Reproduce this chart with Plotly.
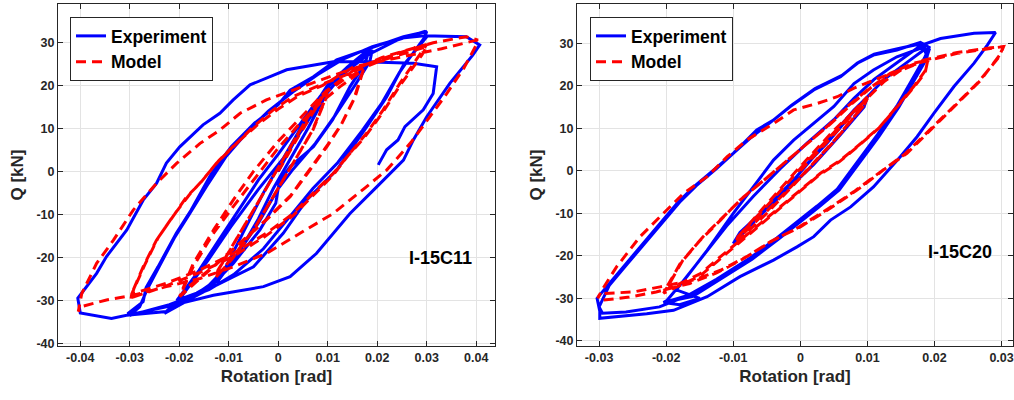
import plotly.graph_objects as go

# ---------------- data (rotation [rad], Q [kN]) ----------------
left_exp = [
    (0, 0), (0.004, 8.5), (0.008, 16.5), (0.0105, 21),
    (0.0095, 17.5), (0.006, 10), (0.002, 2), (-0.001, -4), (-0.004, -11), (-0.008, -19), (-0.0125, -26),
    (-0.0105, -22), (-0.007, -14), (-0.003, -5), (0.001, 3), (0.005, 11), (0.0085, 17), (0.0105, 20.5),
    (0.014, 24.3), (0.0185, 28.6),
    (0.0175, 25), (0.0145, 19.7), (0.011, 12), (0.0071, 5.7), (0.0024, 1.1), (0.0002, -2.5), (-0.0005, -7.4),
    (-0.0037, -13.6), (-0.0091, -21.4), (-0.013, -26), (-0.0165, -28.3), (-0.0205, -30),
    (-0.0195, -28.5), (-0.016, -23), (-0.012, -16), (-0.008, -9), (-0.004, -2), (0.0, 4), (0.0045, 11),
    (0.0085, 17.5), (0.0115, 21.5), (0.015, 24.8), (0.019, 28.2),
    (0.0185, 25.5), (0.0155, 20), (0.0115, 13), (0.0075, 6.5), (0.003, 0.5), (0.0, -4), (-0.004, -12),
    (-0.009, -20.5), (-0.014, -26.5), (-0.019, -30.5), (-0.023, -33),
    (-0.0196, -29.2), (-0.0142, -20.7), (-0.0096, -12.9), (-0.0041, -4.3), (0.001, 3), (0.005, 10),
    (0.009, 17), (0.013, 22.5), (0.018, 27), (0.024, 30.5), (0.0295, 32.5),
    (0.030, 31.3), (0.0266, 26.7), (0.0253, 24.7), (0.0219, 17.3), (0.0179, 10.4), (0.0118, 0.3),
    (0.0057, -6.7), (0.001, -14.4), (-0.005, -22.2), (-0.0131, -26.8), (-0.0226, -32.6), (-0.0303, -33.4),
    (-0.0303, -33), (-0.0273, -30.3), (-0.0267, -27), (-0.0243, -22.2), (-0.0206, -14.4), (-0.0176, -9),
    (-0.0135, -0.5), (-0.0095, 5.7), (-0.0048, 11.2), (0, 15.5), (0.0024, 18.9), (0.0071, 22),
    (0.0118, 25.9), (0.0185, 28.6), (0.0253, 31.3), (0.030, 32.5),
    (0.0295, 31), (0.026, 25.5), (0.0245, 23), (0.021, 16), (0.017, 9.5), (0.012, 2), (0.007, -4),
    (0.002, -11), (-0.003, -18), (-0.009, -24), (-0.014, -27.5), (-0.022, -31), (-0.030, -33.5),
    (-0.028, -31.5), (-0.0265, -27.5), (-0.024, -22), (-0.021, -15.5), (-0.018, -10), (-0.0145, -3.5),
    (-0.0105, 3.5), (-0.006, 9.5), (-0.002, 14), (0.003, 18.5), (0.008, 22.5), (0.013, 26), (0.019, 29),
    (0.025, 31), (0.0295, 31.5), (0.034, 31.4), (0.038, 31.3), (0.0407, 29.4),
    (0.0393, 27), (0.0347, 20.5), (0.030, 12.7), (0.0273, 7.3), (0.0253, 2.6), (0.0199, -3.6),
    (0.0145, -9.8), (0.0077, -19.1), (0.0024, -24.5), (-0.003, -26.8), (-0.0131, -28.8), (-0.0226, -31.5),
    (-0.0337, -34.2), (-0.040, -32.9), (-0.0405, -29.5),
    (-0.0367, -23.7), (-0.0347, -19.8), (-0.0306, -13.6), (-0.0273, -6.7), (-0.0246, -2.8), (-0.0226, 1.9),
    (-0.0199, 5.7), (-0.0152, 10.8), (-0.0118, 13.5), (-0.0091, 16.6), (-0.0057, 20.1), (0.0017, 23.6),
    (0.0111, 25.5), (0.0172, 25.5), (0.0273, 25.1), (0.032, 24.3), (0.0313, 18.1), (0.0293, 14.3),
    (0.0256, 10.4), (0.0242, 7.3), (0.0219, 5.0), (0.0202, 1.5),
]

left_mod = [
    (0, 0), (0.004, 8), (0.0075, 14.5), (0.0098, 18.9),
    (0.0098, 17.4), (0.007, 9.6), (0.003, 1.9), (-0.001, -5.9), (-0.005, -13.6), (-0.0091, -19.8), (-0.0125, -24.5),
    (-0.0125, -23.7), (-0.0077, -14.4), (-0.003, -5.1), (0.0017, 4.2), (0.0064, 13.5), (0.0098, 18.9),
    (0.0096, 17), (0.0068, 9.3), (0.0028, 1.5), (-0.0012, -6.2), (-0.0052, -14), (-0.0092, -20.2), (-0.0125, -24.5),
    (-0.0122, -23), (-0.0078, -14.6), (-0.0032, -5.5), (0.0015, 3.8), (0.0062, 13), (0.0098, 18.5),
    (0.0135, 21.5), (0.0172, 23.6),
    (0.0152, 16.6), (0.0125, 10.4), (0.0098, 5.7), (0.0064, 0.3), (0.0024, -5.9), (-0.0024, -11.3),
    (-0.0077, -16.7), (-0.0131, -22.2), (-0.0178, -26.8), (-0.0199, -29.1),
    (-0.0172, -22.2), (-0.0131, -14.4), (-0.0091, -8.2), (-0.005, -2), (-0.0003, 5), (0.0044, 11.2),
    (0.0084, 15.8), (0.0125, 19.7), (0.0172, 23.6),
    (0.0155, 17.2), (0.0128, 11), (0.010, 6.2), (0.0066, 0.8), (0.0026, -5.5), (-0.0022, -11),
    (-0.0075, -16.5), (-0.013, -22), (-0.0178, -26.5), (-0.0199, -29),
    (-0.0172, -21.5), (-0.013, -13.5), (-0.009, -6.5), (-0.005, 0), (0.0, 7), (0.005, 13), (0.0095, 18.5),
    (0.0152, 23.5), (0.021, 26.5), (0.0255, 28), (0.030, 29.5),
    (0.0246, 20.5), (0.0212, 14.3), (0.0178, 8.8), (0.0145, 4.2), (0.0111, -0.5), (0.0077, -4.3),
    (0.003, -9.8), (-0.0024, -14.4), (-0.0091, -19.1), (-0.0158, -22.9), (-0.0226, -26), (-0.0293, -28.4),
    (-0.0296, -29.5),
    (-0.0296, -28.4), (-0.0273, -22.2), (-0.0246, -16), (-0.0212, -10.5), (-0.0185, -5.9), (-0.0158, -2.8),
    (-0.0125, 1.9), (-0.0091, 5.7), (-0.005, 10.4), (-0.001, 14.3), (0.003, 17.4), (0.0077, 19.7),
    (0.0145, 22.8), (0.0212, 25.9), (0.030, 29),
    (0.029, 27), (0.0245, 19.8), (0.021, 13.5), (0.0175, 8), (0.014, 3.5), (0.011, -1), (0.0075, -5),
    (0.003, -10.3), (-0.0025, -15), (-0.009, -19.7), (-0.0158, -23.5), (-0.0226, -26.6), (-0.0295, -29.3),
    (-0.0298, -30),
    (-0.0296, -28.5), (-0.027, -21.8), (-0.0243, -15.5), (-0.021, -10), (-0.018, -5.5), (-0.0155, -2.3),
    (-0.012, 2.5), (-0.0085, 6.5), (-0.004, 11), (0.0, 14.5), (0.004, 17.5), (0.009, 20), (0.0152, 24.3),
    (0.0252, 26.7), (0.033, 28.5), (0.0401, 30.5),
    (0.0404, 30.2), (0.0375, 24), (0.034, 18), (0.0305, 12.5), (0.027, 7), (0.024, 3), (0.0219, 0.3),
    (0.0178, -3.6), (0.0111, -9.8), (0.0044, -14.4), (-0.0024, -19.1), (-0.0091, -22.2), (-0.0158, -24.9),
    (-0.0226, -26.8), (-0.0293, -28.8), (-0.0347, -29.9), (-0.040, -31.5), (-0.0404, -32.6),
    (-0.0397, -28.4), (-0.0367, -21.4), (-0.0333, -16), (-0.0293, -9), (-0.0246, -2.8), (-0.0205, 1.9),
    (-0.0158, 6.5), (-0.0118, 9.6), (-0.0077, 13.5), (-0.0024, 16.6), (0.0044, 19.5), (0.0111, 22.3),
    (0.0178, 24.9), (0.0246, 27.6), (0.0313, 29.9), (0.038, 31.3), (0.0404, 30.5),
]

right_exp = [
    (0, 0), (0.004, 6.5), (0.008, 14), (0.010, 17.4),
    (0.0095, 15), (0.006, 8.5), (0.002, 1.5), (-0.002, -4.5), (-0.006, -10.5), (-0.010, -17.1),
    (-0.009, -14.5), (-0.007, -11.6), (-0.004, -6.9), (-0.001, -2.2), (0.002, 3.3), (0.005, 8.8),
    (0.008, 14.3), (0.010, 17.4),
    (0.0125, 21.5), (0.0155, 25), (0.0185, 28.5),
    (0.0189, 26.8), (0.0169, 21.3), (0.0149, 15.8), (0.0119, 8.8), (0.009, 2.5), (0.006, -3.8),
    (0.003, -7.7), (0, -11.6), (-0.003, -15.5), (-0.007, -20.2), (-0.0119, -24.9), (-0.0159, -28.9),
    (-0.0204, -31),
    (-0.0199, -30.5), (-0.0169, -24.9), (-0.0139, -18.7), (-0.010, -10), (-0.007, -3.8), (-0.004, 2.5),
    (-0.001, 7.2), (0.002, 11.1), (0.005, 15.1), (0.008, 20.5), (0.0109, 23.7), (0.0144, 26.8),
    (0.0179, 28.8), (0.0192, 28.4),
    (0.0187, 26), (0.0167, 20.5), (0.0147, 15), (0.0117, 8), (0.0088, 1.8), (0.0058, -4.5),
    (0.0028, -8.5), (-0.0002, -12.3), (-0.0032, -16), (-0.0072, -20.8), (-0.012, -25.5), (-0.016, -29.5),
    (-0.0204, -31), (-0.018, -31.5), (-0.015, -30),
    (-0.0185, -28), (-0.015, -21), (-0.011, -13), (-0.007, -6), (-0.003, 0.5), (0.001, 6.5),
    (0.005, 12), (0.008, 17), (0.011, 21.5), (0.0145, 25.5), (0.018, 29.5), (0.0209, 31.1),
    (0.0259, 32.3), (0.0291, 32.5),
    (0.0279, 29.6), (0.0259, 25.3), (0.0229, 19.8), (0.0199, 13.5), (0.0174, 8), (0.0149, 3.3),
    (0.0109, -3.8), (0.0075, -8.5), (0.0045, -11.6), (0.002, -15.5), (-0.0005, -17.9), (-0.004, -21),
    (-0.009, -24.9), (-0.0139, -29.6), (-0.0189, -32.8), (-0.0229, -33.6), (-0.0299, -34.7),
    (-0.0299, -33), (-0.0303, -30),
    (-0.0289, -27.3), (-0.0264, -22.6), (-0.0239, -17.9), (-0.0214, -13.2), (-0.0184, -7.7),
    (-0.0174, -6.1), (-0.0159, -3.8), (-0.0129, 0.2), (-0.010, 4.1), (-0.008, 7.2), (-0.0065, 9.6),
    (-0.004, 11.9), (-0.0015, 15.1), (0.002, 19), (0.006, 22.1), (0.0085, 25.3), (0.0109, 27.2),
    (0.0144, 28.4), (0.0179, 30.2), (0.0192, 29),
    (0.0185, 26.5), (0.0165, 21), (0.0145, 15.5), (0.0115, 8.5), (0.0085, 2), (0.0055, -4.3),
    (0.0025, -8.3), (-0.0005, -12), (-0.0035, -15.8), (-0.0075, -20.5), (-0.0125, -25.5),
    (-0.017, -29.5), (-0.021, -32), (-0.026, -33.2), (-0.0295, -33.5), (-0.030, -32),
    (-0.0285, -27), (-0.026, -22.3), (-0.0235, -17.6), (-0.021, -12.9), (-0.018, -7.4),
    (-0.0155, -3.5), (-0.0125, 0.5), (-0.0098, 4.4), (-0.0075, 7.6), (-0.0038, 12.2),
    (-0.0013, 15.4), (0.0022, 19.3), (0.0062, 22.4), (0.0087, 25.5), (0.011, 27.4), (0.0145, 28.7),
    (0.0178, 29.8), (0.0188, 28.4),
]

right_mod = [
    (0, 0), (0.005, 8.5), (0.010, 17),
    (0.0095, 15.5), (0.005, 7), (0, -1.5), (-0.005, -9.5), (-0.0095, -16.3),
    (-0.0093, -15.5), (-0.005, -8.3), (0, 0.5), (0.005, 9), (0.010, 17.4),
    (0.0093, 15), (0.0048, 6.5), (-0.0002, -2), (-0.005, -10), (-0.0095, -16.8),
    (-0.009, -15), (-0.005, -7.8), (0, 1), (0.005, 9.5), (0.009, 15.5), (0.0125, 21), (0.0155, 24.2),
    (0.019, 26),
    (0.0187, 23.7), (0.0169, 19.8), (0.0144, 15.1), (0.0119, 10.4), (0.009, 6.4), (0.006, 2.5),
    (0.003, -0.6), (0, -4.5), (-0.003, -8.5), (-0.006, -12.4), (-0.009, -16.3), (-0.0119, -20.2),
    (-0.0149, -24.2), (-0.0179, -26.5), (-0.0204, -28.1),
    (-0.0199, -27.3), (-0.0179, -21.8), (-0.0149, -16.3), (-0.0119, -11.6), (-0.009, -6.9),
    (-0.006, -3), (-0.0025, 1.7), (0.001, 6.4), (0.004, 10.4), (0.007, 15.1), (0.010, 19),
    (0.0134, 22.9), (0.0169, 25.3), (0.019, 26),
    (0.0186, 23), (0.0167, 19.2), (0.0142, 14.6), (0.0117, 10), (0.0088, 6), (0.0058, 2.1),
    (0.0028, -1), (-0.0002, -5), (-0.0032, -9), (-0.0062, -13), (-0.0092, -17), (-0.0121, -21),
    (-0.015, -24.8), (-0.018, -27), (-0.0204, -28.8),
    (-0.0195, -26.5), (-0.0175, -21), (-0.0145, -15.5), (-0.0115, -10.8), (-0.0085, -6.2),
    (-0.0055, -2.3), (-0.002, 2.3), (0.0015, 7), (0.0045, 11), (0.0075, 15.5), (0.0105, 19.5),
    (0.014, 23), (0.018, 25.5), (0.0234, 27.6), (0.0284, 28.8), (0.0303, 29.2),
    (0.0299, 27.6), (0.0269, 21.3), (0.0234, 15.8), (0.0199, 10.4), (0.0159, 4.1), (0.0124, 0.2),
    (0.0085, -4.5), (0.004, -9.3), (0, -13.2), (-0.004, -16.3), (-0.008, -20.2), (-0.0119, -23.4),
    (-0.0159, -25.7), (-0.0209, -27.3), (-0.0249, -28.5), (-0.0299, -28.9), (-0.0302, -30),
    (-0.0296, -28.1), (-0.0274, -22.6), (-0.0239, -15.5), (-0.0204, -10), (-0.0174, -5.3),
    (-0.0139, -1.4), (-0.0109, 3.3), (-0.008, 7.2), (-0.004, 11.1), (-0.001, 14.3), (0.0025, 15.8),
    (0.0055, 17.4), (0.008, 19.4), (0.0109, 21.3), (0.0149, 23.7), (0.0184, 26), (0.0234, 27.8),
    (0.0284, 28.9), (0.0303, 29.2),
    (0.0295, 26.5), (0.0265, 20.8), (0.023, 15.3), (0.0195, 10), (0.0155, 3.8), (0.012, -0.2),
    (0.008, -4.9), (0.0035, -9.6), (-0.0005, -13.5), (-0.0045, -16.7), (-0.0085, -20.7),
    (-0.0125, -24), (-0.0165, -26.5), (-0.0215, -28.5), (-0.0255, -29.7), (-0.0299, -30.5),
]

left_label = "I-15C11"
right_label = "I-15C20"
left_xticks = [-0.04, -0.03, -0.02, -0.01, 0, 0.01, 0.02, 0.03, 0.04]
left_xtext = ["-0.04", "-0.03", "-0.02", "-0.01", "0", "0.01", "0.02", "0.03", "0.04"]
right_xticks = [-0.03, -0.02, -0.01, 0, 0.01, 0.02, 0.03]
right_xtext = ["-0.03", "-0.02", "-0.01", "0", "0.01", "0.02", "0.03"]
yticks = [-40, -30, -20, -10, 0, 10, 20, 30]
ytext = ["-40", "-30", "-20", "-10", "0", "10", "20", "30"]

# ---------------- figure ----------------
FONT = "Liberation Sans, Arial, sans-serif"
AX = "#262626"
BLUE = "rgb(0,0,255)"
RED = "rgb(255,0,0)"


def xy(pairs):
    return [p[0] for p in pairs], [p[1] for p in pairs]


fig = go.Figure()
for pairs, name, color, dash, xa, ya, lg in [
    (left_exp, "Experiment", BLUE, "solid", "x", "y", "legend"),
    (left_mod, "Model", RED, "10px,6px", "x", "y", "legend"),
    (right_exp, "Experiment", BLUE, "solid", "x2", "y2", "legend2"),
    (right_mod, "Model", RED, "10px,6px", "x2", "y2", "legend2"),
]:
    xs, ys = xy(pairs)
    fig.add_trace(go.Scatter(x=xs, y=ys, mode="lines", name=name,
                             line=dict(color=color, width=3, dash=dash),
                             xaxis=xa, yaxis=ya, legend=lg, showlegend=True))

axis_common = dict(showline=True, linecolor=AX, linewidth=1, mirror="ticks",
                   ticks="inside", ticklen=5, tickcolor=AX, tickwidth=1,
                   showgrid=True, gridcolor="#e3e3e3", gridwidth=1, zeroline=False,
                   automargin=False,
                   tickfont=dict(family=FONT, size=12.5, color=AX, weight="bold"))

title_font = dict(family=FONT, size=17, color=AX, weight="bold")
legend_common = dict(y=1 - 17 / 400, xanchor="left", yanchor="top",
                     bgcolor="white", bordercolor=AX, borderwidth=1, tracegroupgap=0,
                     font=dict(family=FONT, size=17.5, color="black", weight="bold"))

fig.update_layout(
    width=1014, height=400,
    margin=dict(l=0, r=0, t=0, b=0),
    paper_bgcolor="white", plot_bgcolor="white",
    xaxis=dict(domain=[0.0572, 0.4882], range=[-0.0445, 0.0438], anchor="y",
               tickvals=left_xticks, ticktext=left_xtext,
               title=dict(text="Rotation [rad]", font=title_font, standoff=6), **axis_common),
    yaxis=dict(domain=[0.135, 0.99], range=[-40.6, 38.9], anchor="x",
               tickvals=yticks, ticktext=ytext,
               title=dict(text="Q [kN]", font=title_font, standoff=8), **axis_common),
    xaxis2=dict(domain=[0.569, 0.999], range=[-0.0333, 0.0317], anchor="y2",
                tickvals=right_xticks, ticktext=right_xtext,
                title=dict(text="Rotation [rad]", font=title_font, standoff=6), **axis_common),
    yaxis2=dict(domain=[0.135, 0.99], range=[-41.2, 39.2], anchor="x2",
                tickvals=yticks, ticktext=ytext,
                title=dict(text="Q [kN]", font=title_font, standoff=8), **axis_common),
    legend=dict(x=70 / 1014, **legend_common),
    legend2=dict(x=590 / 1014, **legend_common),
    annotations=[
        dict(text=left_label, x=0.0327, y=-20.2, xref="x", yref="y", showarrow=False,
             font=dict(family=FONT, size=18, color="black", weight="bold")),
        dict(text=right_label, x=0.0238, y=-19.1, xref="x2", yref="y2", showarrow=False,
             font=dict(family=FONT, size=18, color="black", weight="bold")),
    ],
)

fig.write_html("out.html", config={"displayModeBar": False},
               post_script="document.body.style.margin='0';document.body.style.overflow='hidden';")
